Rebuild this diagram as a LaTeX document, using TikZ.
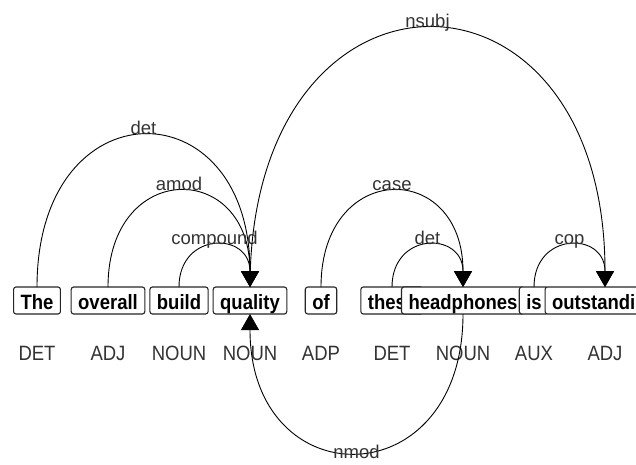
\documentclass[tikz,border=0pt]{standalone}
\usepackage{fontspec}
\setmainfont{Liberation Sans}
\usetikzlibrary{arrows.meta}

\newcommand{\tall}[1]{\scalebox{1}[1.12]{#1}}

\begin{document}
\begin{tikzpicture}[x=1pt, y=1pt]
\tikzset{word/.style =
        {
            rectangle,
            rounded corners=2.5pt,
            draw=black!85,
            line width=1.1pt,
            fill=white,
            font=\fontsize{18.5}{20}\selectfont\bfseries,
            inner xsep=7pt,
            inner ysep=1pt,
            text height=21pt,
            text depth=4pt,
            outer sep=0pt,
            anchor=base
        }
}

\tikzset{tag/.style =
        {
            font=\fontsize{18.5}{20}\selectfont,
            text=black!80,
            inner sep=0pt,
            anchor=base
        }
}

\tikzset{dep/.style =
        {
            line width=0.9pt,
            black,
            -{Triangle[width=18pt, length=16pt]}
        }
}

\tikzset{arclabel/.style =
        {
            font=\fontsize{18.5}{20}\selectfont,
            text=black!80,
            inner sep=0pt,
            anchor=base,
            yshift=1pt
        }
}

		\useasboundingbox (0,0) rectangle (636,-464);
		\clip (0,0) rectangle (636,-464);

		\foreach \i / \w / \t in
			{0/The/DET,
				1/overall/ADJ,
				2/build/NOUN,
				3/quality/NOUN,
				4/of/ADP,
				5/these/DET,
				6/headphones/NOUN,
				7/is/AUX,
				8/outstanding/ADJ}
		{
			\node[word] at (37+71*\i, -309) (w\i) {\tall{\w}};
			\node[tag] at (37+71*\i, -360) (t\i) {\tall{\t}};
		}

		\foreach \from / \to / \lab / \loose in
			{w0/w3/det/2.43,
				w1/w3/amod/2.30,
				w2/w3/compound/2.01,
				w3/w8/nsubj/2.49,
				w4/w6/case/2.30,
				w5/w6/det/2.01,
				w7/w8/cop/2.01}
			{
				\draw [dep] (\from.north) to[out=90, in=90, looseness=\loose] node[arclabel, pos=0.5] {\lab} (\to.north);
			}

		\draw [dep] (w6.south) to[out=-90, in=-90, looseness=2.22] node[arclabel, pos=0.5, anchor=mid, yshift=-5pt] {nmod} (w3.south);

	\end{tikzpicture}
\end{document}
